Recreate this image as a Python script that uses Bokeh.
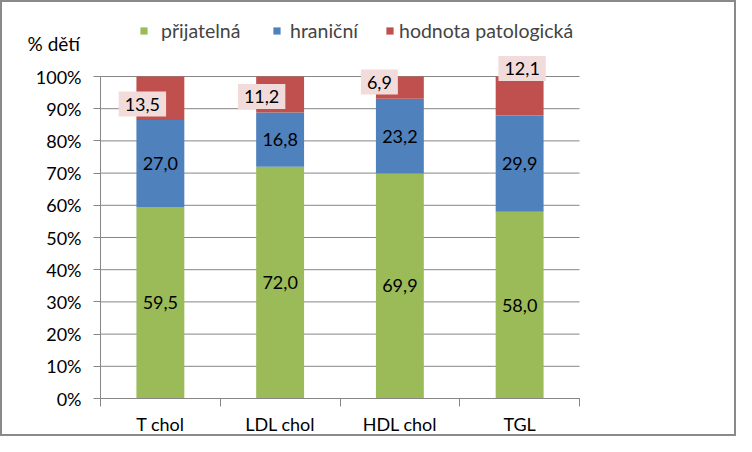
from bokeh.plotting import figure
from bokeh.models import (ColumnDataSource, FixedTicker, PrintfTickFormatter, LabelSet,
                          Label, Legend, LegendItem, Range1d)
from bokeh.core.properties import value
from bokeh.embed import file_html
from bokeh.resources import INLINE

# ---- data ----
categories = ["T chol", "LDL chol", "HDL chol", "TGL"]
prijatelna = [59.5, 72.0, 69.9, 58.0]
hranicni = [27.0, 16.8, 23.2, 29.9]
patologicka = [13.5, 11.2, 6.9, 12.1]
series_names = ["přijatelná", "hraniční", "hodnota patologická"]
y_ticks = [0, 10, 20, 30, 40, 50, 60, 70, 80, 90, 100]
y_title = "% dětí"

# ---- style / layout ----
colors = ["#9bbb59", "#4f81bd", "#c0504d"]
FONT = "Lato"
GRAY = "#868686"
FS = "18px"
W, H = 736, 436
PX_X, PX_Y = 119.75, 3.22         # pixels per category / per percent
X0, Y0 = 98.0, 396.0              # canvas position of the axes origin
# manual placement of the red labels (screen px, up positive)
red_x_off = [-18, -18.5, -20.5, 2.5]
red_y_off = [-5.8, -1.9, 5.6, 27.5]


def fmt(v):
    return f"{v:.1f}".replace(".", ",")


n = len(categories)
xs = [i + 0.5 for i in range(n)]
src = ColumnDataSource(dict(x=xs, a=prijatelna, b=hranicni, c=patologicka))

p = figure(width=W, height=H,
           x_range=Range1d(-X0 / PX_X, (W - X0) / PX_X),
           y_range=Range1d(-(H - Y0) / PX_Y, Y0 / PX_Y),
           output_backend="svg", toolbar_location=None,
           min_border_left=0, min_border_right=0, min_border_top=0, min_border_bottom=0)
p.outline_line_color = None
p.styles = {"border": "2px solid #8a8a8a"}
p.xgrid.visible = False
p.ygrid.visible = False

# gridlines within the plot area
p.segment(x0=[0] * len(y_ticks), x1=[n] * len(y_ticks), y0=y_ticks, y1=y_ticks,
          line_color=GRAY, line_width=1)

rs = p.vbar_stack(["a", "b", "c"], x="x", width=0.4, color=colors, source=src, line_width=0)

# value labels
mid_a = [v / 2 for v in prijatelna]
mid_b = [a + b / 2 for a, b in zip(prijatelna, hranicni)]
mid_c = [a + b + c / 2 for a, b, c in zip(prijatelna, hranicni, patologicka)]
lab_src = ColumnDataSource(dict(
    x=xs, ya=mid_a, yb=mid_b, yc=mid_c,
    ta=[fmt(v) for v in prijatelna], tb=[fmt(v) for v in hranicni],
    tc=[fmt(v) for v in patologicka], xo=red_x_off, yo=red_y_off))

for yf, tf in (("ya", "ta"), ("yb", "tb")):
    p.add_layout(LabelSet(x="x", y=yf, text=tf, source=lab_src, text_align="center",
                          text_baseline="middle", text_font=value(FONT), text_font_size=FS,
                          text_color="#000000"))

p.add_layout(LabelSet(x="x", y="yc", text="tc", source=lab_src, x_offset="xo", y_offset="yo",
                      text_align="center", text_baseline="middle", text_font=value(FONT),
                      text_font_size=FS, text_color="#000000",
                      background_fill_color="#f2dcdb", border_line_color="#f2dcdb",
                      border_line_width=12, border_line_join="miter"))

# axes drawn at the data origin
p.yaxis.fixed_location = 0
p.yaxis.bounds = (0, 100)
p.yaxis.ticker = FixedTicker(ticks=y_ticks)
p.yaxis.formatter = PrintfTickFormatter(format="%d%%")
p.yaxis.major_tick_out = 7
p.yaxis.major_tick_in = 0
p.yaxis.minor_tick_line_color = None
p.yaxis.axis_line_color = GRAY
p.yaxis.major_tick_line_color = GRAY
p.yaxis.major_label_text_font = FONT
p.yaxis.major_label_text_font_size = FS
p.yaxis.major_label_text_color = "#000000"
p.yaxis.major_label_standoff = 12

p.xaxis.fixed_location = 0
p.xaxis.bounds = (0, n)
p.xaxis.ticker = FixedTicker(ticks=xs, minor_ticks=list(range(n + 1)))
p.xaxis.major_label_overrides = {x: c for x, c in zip(xs, categories)}
p.xaxis.major_tick_line_color = None
p.xaxis.major_tick_out = 0
p.xaxis.major_tick_in = 0
p.xaxis.minor_tick_out = 8
p.xaxis.minor_tick_in = 0
p.xaxis.minor_tick_line_color = GRAY
p.xaxis.axis_line_color = GRAY
p.xaxis.major_label_text_font = FONT
p.xaxis.major_label_text_font_size = FS
p.xaxis.major_label_text_color = "#000000"
p.xaxis.major_label_standoff = 6

# y title
p.add_layout(Label(x=-0.39, y=110.2, text=y_title, text_align="center", text_baseline="middle",
                   text_font=FONT, text_font_size="19px", text_color="#000000"))

# legends
leg_x = [137, 270, 383]
leg_standoff = [13, 9, 5]
for r, name, lx, so in zip(rs, series_names, leg_x, leg_standoff):
    lg = Legend(items=[LegendItem(label=name, renderers=[r])], location=(lx, 396),
                orientation="horizontal", glyph_width=9, glyph_height=9, label_standoff=so,
                padding=0, margin=0, border_line_color=None, background_fill_alpha=0,
                label_text_font=FONT, label_text_font_size="19.5px", label_height=22)
    p.add_layout(lg)

open("out.html", "w", encoding="utf-8").write(file_html(p, INLINE))
